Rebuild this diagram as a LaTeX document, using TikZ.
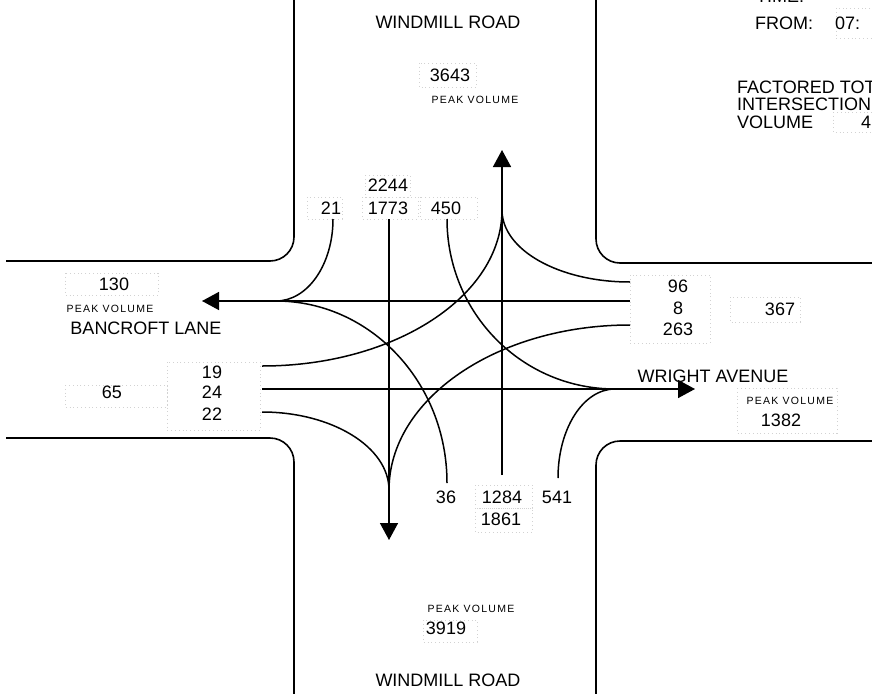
\documentclass[tikz,border=0pt]{standalone}
\usepackage{fontspec}
\setmainfont{Liberation Sans}
\newfontfamily\peakfont[LetterSpace=12]{Liberation Sans}
\usetikzlibrary{arrows.meta}
\begin{document}
\begin{tikzpicture}[x=1pt,y=-1pt,
  road/.style={line width=1.6pt, rounded corners=24pt},
  flow/.style={line width=1.5pt},
  tip/.style={-{Triangle[length=17pt,width=18pt]}},
  lbl/.style={inner sep=0pt, font=\fontsize{18}{20}\selectfont},
  num/.style={inner sep=0pt, font=\fontsize{18}{20}\selectfont},
  peak/.style={inner sep=0pt, font=\fontsize{10.5}{12}\peakfont},
  dotbox/.style={draw=gray!35, line width=0.5pt, dash pattern=on 0.8pt off 3pt}]
\useasboundingbox (0,0) rectangle (872,693);
\clip (0,0) rectangle (872,693);

% road outlines
\draw[road] (294,-5) -- (294,261) -- (6,261);
\draw[road] (596,-5) -- (596,263) -- (880,263);
\draw[road] (6,438) -- (294,438) -- (294,700);
\draw[road] (880,441) -- (596,441) -- (596,700);

% faint dotted boxes
\draw[dotbox] (419,63) rectangle (476,87);
\draw[dotbox] (365,175) rectangle (410,197);
\draw[dotbox] (307,197) rectangle (342,219);
\draw[dotbox] (362,197) rectangle (418,219);
\draw[dotbox] (420,197) rectangle (477,219);
\draw[dotbox] (65,273) rectangle (158,295);
\draw[dotbox] (65,385) rectangle (167,407);
\draw[dotbox] (167,362) rectangle (260,430);
\draw[dotbox] (630,275) rectangle (710,343);
\draw[dotbox] (730,297) rectangle (800,322);
\draw[dotbox] (737,388) rectangle (837,433);
\draw[dotbox] (475,485) rectangle (532,508);
\draw[dotbox] (475,508) rectangle (532,532);
\draw[dotbox] (423,620) rectangle (477,642);
\draw[dotbox] (836,8) rectangle (880,38);
\draw[dotbox] (833,112) rectangle (880,132);

% labels
\node[lbl] (wrn) at (448,22) {WINDMILL ROAD};
\node[num] (n3643) at (450,75) {3643};
\node[peak] (pvn) at (475,100) {PEAK VOLUME};
\node[num] (n2244) at (388,185) {2244};
\node[num] (n21) at (331,208) {21};
\node[num] (n1773) at (388,208) {1773};
\node[num] (n450) at (446,208) {450};
\node[num] (n130) at (114,284) {130};
\node[peak] (pvw) at (110,309) {PEAK VOLUME};
\node[lbl] (bl) at (146,328) {BANCROFT LANE};
\node[num] (n19) at (212,372) {19};
\node[num] (n24) at (212,392) {24};
\node[num] (n22) at (212,414) {22};
\node[num] (n65) at (112,392) {65};
\node[num] (n96) at (678,286) {96};
\node[num] (n8) at (678,308) {8};
\node[num] (n263) at (678,329) {263};
\node[num] (n367) at (780,309) {367};
\node[lbl] (wa) at (713,376) {WRIGHT AVENUE};
\node[peak] (pve) at (790,401) {PEAK VOLUME};
\node[num] (n1382) at (781,420) {1382};
\node[num] (n36) at (446,497) {36};
\node[num] (n1284) at (502,497) {1284};
\node[num] (n541) at (557,497) {541};
\node[num] (n1861) at (501,519) {1861};
\node[peak] (pvs) at (471,609) {PEAK VOLUME};
\node[num] (n3919) at (446,628) {3919};
\node[lbl] (wrs) at (448,680) {WINDMILL ROAD};

\node[lbl] (time) at (780,-4) {TIME:};
\node[lbl] (from) at (784,23) {FROM:};
\node[lbl,anchor=west] (t07) at (835,23) {07:};
\node[lbl,anchor=west] (fac) at (737,87) {FACTORED TOT};
\node[lbl,anchor=west] (inter) at (737,104) {INTERSECTION};
\node[lbl,anchor=west] (vol) at (737,122) {VOLUME};
\node[lbl,anchor=west] (v4) at (861,122) {4};

% flow coordinates
\coordinate (sbS) at (389,219);
\coordinate (sbE) at (389,540);
\coordinate (nbS) at (502,475);
\coordinate (nbE) at (502,150);
\coordinate (wbS) at (630,301);
\coordinate (wbE) at (202,301);
\coordinate (ebS) at (262,389);
\coordinate (ebE) at (695,389);
\coordinate (mW) at (276,301);
\coordinate (mE) at (615,389);
\coordinate (mN) at (502,210);
\coordinate (mS) at (389,490);
\coordinate (s21) at (333,219);
\coordinate (s450) at (447,219);
\coordinate (s96) at (630,282);
\coordinate (s263) at (630,325);
\coordinate (s36) at (447,483);
\coordinate (s541) at (558,478);
\coordinate (s19) at (262,366);
\coordinate (s22) at (262,412);

% turning movements
\draw[flow] (s21) .. controls (333,264) and (308,301) .. (mW);
\draw[flow] (s450) .. controls (447,313) and (522,389) .. (mE);
\draw[flow] (s96) .. controls (559,282) and (502,250) .. (mN);
\draw[flow] (s263) .. controls (497,325) and (389,399) .. (mS);
\draw[flow] (s36) .. controls (447,382) and (370,301) .. (mW);
\draw[flow] (s541) .. controls (558,429) and (583,389) .. (mE);
\draw[flow] (s19) .. controls (395,366) and (502,296) .. (mN);
\draw[flow] (s22) .. controls (332,412) and (389,447) .. (mS);

% through movements
\draw[flow,tip] (wbS) -- (wbE);
\draw[flow,tip] (ebS) -- (ebE);
\draw[flow,tip] (nbS) -- (nbE);
\draw[flow,tip] (sbS) -- (sbE);
\end{tikzpicture}
\end{document}
